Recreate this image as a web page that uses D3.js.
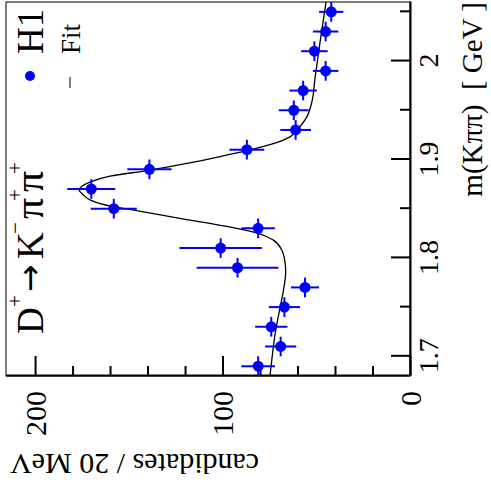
<!DOCTYPE html>
<html>
<head>
<meta charset="utf-8">
<script src="https://cdn.jsdelivr.net/npm/d3@7"></script>
<style>
  body { margin: 0; background: #fff; }
  svg { display: block; }
  text { font-family: 'Liberation Serif', 'Times New Roman', serif; fill: #000; }
</style>
</head>
<body>
<div id="chart"></div>
<script>
// bin centres of m(K pi pi), 20 MeV bins
const massBins = [1.69, 1.71, 1.73, 1.75, 1.77, 1.79, 1.81, 1.83, 1.85, 1.87,
  1.89, 1.91, 1.93, 1.95, 1.97, 1.99, 2.01, 2.03, 2.05];
const candidates = [81, 69, 74, 67, 56, 92, 101, 81, 158, 170,
  139, 87, 61, 62, 57, 45, 51, 45, 42];
const candErrors = [9, 8.3, 8.6, 8.3, 7.5, 21.8, 22, 8.9, 12.3, 12.8,
  11.8, 9.3, 8.2, 8, 7.3, 6.8, 7.1, 6.8, 6.5];
const binHalfWidth = 0.01;

// fit curve
const fitMass = [1.68, 1.695, 1.722, 1.746, 1.766, 1.786, 1.796, 1.808, 1.818, 1.825,
  1.830, 1.836, 1.842, 1.848, 1.852, 1.859, 1.864, 1.869, 1.877, 1.883,
  1.889, 1.896, 1.903, 1.909, 1.915, 1.923, 1.928, 1.943, 1.958, 1.982,
  2.019, 2.06];
const fitCandidates = [74.7, 73.8, 72, 69.7, 67.6, 66.3, 66.7, 68.4, 72.9, 80.9,
  92.4, 110.2, 128, 145.8, 158.2, 170.7, 174.2, 176.4, 170.7, 160,
  139.2, 119.1, 101.3, 87.1, 74.7, 64, 61.3, 55.1, 52.4, 50.7,
  48, 44.8];

const massTicks = [1.7, 1.8, 1.9, 2.0];
const massTickLabels = ['1.7', '1.8', '1.9', '2'];
const massMinorTicks = [1.75, 1.85, 1.95, 2.05];
const countTicks = [0, 100, 200];
const countTickLabels = ['0', '100', '200'];
const countMinorTicks = [20, 40, 60, 80, 120, 140, 160, 180];

const width = 491;
const height = 490;

// the plot is laid out upright and then turned a quarter turn anticlockwise
const plot = { left: 114, right: 488, top: 6, bottom: 410 };
const serif = "'Liberation Serif', 'Times New Roman', serif";

const svg = d3.select('#chart')
  .append('svg')
  .attr('width', width)
  .attr('height', height);

svg.append('rect')
  .attr('width', width)
  .attr('height', height)
  .attr('fill', '#fff');

const g = svg.append('g')
  .attr('transform', `translate(0,${height}) rotate(-90)`);

const x = d3.scaleLinear().domain([1.68, 2.06]).range([plot.left, plot.right]);
const y = d3.scaleLinear().domain([0, 215.5]).range([plot.bottom, plot.top]);

// frame
g.append('rect')
  .attr('x', plot.left)
  .attr('y', plot.top)
  .attr('width', plot.right - plot.left)
  .attr('height', plot.bottom - plot.top)
  .attr('fill', 'none')
  .attr('stroke', '#000')
  .attr('stroke-width', 1);

// mass axis
g.append('g')
  .attr('transform', `translate(0,${plot.bottom})`)
  .call(d3.axisBottom(x).tickValues(massMinorTicks).tickSize(-10).tickSizeOuter(0).tickFormat(''))
  .call(a => a.select('.domain').remove())
  .call(a => a.selectAll('line').attr('stroke-width', 2));

g.append('g')
  .attr('transform', `translate(0,${plot.bottom})`)
  .call(d3.axisBottom(x).tickValues(massTicks).tickSize(-19).tickSizeOuter(0)
    .tickFormat((d, i) => massTickLabels[i]))
  .call(a => a.select('.domain').attr('stroke-width', 2))
  .call(a => a.selectAll('line').attr('stroke-width', 2))
  .call(a => a.selectAll('text')
    .attr('y', 28)
    .attr('dy', null)
    .style('font-size', '28px')
    .style('font-family', serif));

// count axis
g.append('g')
  .attr('transform', `translate(${plot.left},0)`)
  .call(d3.axisLeft(y).tickValues(countMinorTicks).tickSize(-10).tickSizeOuter(0).tickFormat(''))
  .call(a => a.select('.domain').remove())
  .call(a => a.selectAll('line').attr('stroke-width', 2));

g.append('g')
  .attr('transform', `translate(${plot.left},0)`)
  .call(d3.axisLeft(y).tickValues(countTicks).tickSize(-20).tickSizeOuter(0).tickPadding(15)
    .tickFormat((d, i) => countTickLabels[i]))
  .call(a => a.select('.domain').attr('stroke-width', 2))
  .call(a => a.selectAll('line').attr('stroke-width', 2))
  .call(a => a.selectAll('text')
    .attr('dy', '0.34em')
    .style('font-size', '30px')
    .style('font-family', serif));

// axis titles
g.append('text')
  .attr('x', plot.right)
  .attr('y', 482)
  .attr('text-anchor', 'end')
  .style('font-size', '29px')
  .style('white-space', 'pre')
  .text('m(K\u03c0\u03c0)  [ GeV ]');

g.append('text')
  .attr('transform', 'translate(36,10) rotate(-90)')
  .attr('text-anchor', 'end')
  .style('font-size', '30px')
  .text('candidates / 20 MeV');

// fit
const fitLine = d3.line()
  .x((d, i) => x(fitMass[i]))
  .y(d => y(d))
  .curve(d3.curveMonotoneX);

g.append('path')
  .datum(fitCandidates)
  .attr('d', fitLine)
  .attr('fill', 'none')
  .attr('stroke', '#000')
  .attr('stroke-width', 1.3);

// data points with error bars
const pts = g.append('g')
  .selectAll('g')
  .data(candidates)
  .join('g');

pts.append('line')
  .attr('x1', (d, i) => x(massBins[i]))
  .attr('x2', (d, i) => x(massBins[i]))
  .attr('y1', (d, i) => y(d - candErrors[i]))
  .attr('y2', (d, i) => y(d + candErrors[i]))
  .attr('stroke', '#0000ff')
  .attr('stroke-width', 2);

pts.append('line')
  .attr('x1', (d, i) => x(massBins[i] - binHalfWidth))
  .attr('x2', (d, i) => x(massBins[i] + binHalfWidth))
  .attr('y1', d => y(d))
  .attr('y2', d => y(d))
  .attr('stroke', '#0000ff')
  .attr('stroke-width', 2);

pts.append('circle')
  .attr('cx', (d, i) => x(massBins[i]))
  .attr('cy', d => y(d))
  .attr('r', 5.5)
  .attr('fill', '#0000ff');

// decay label
const title = g.append('text')
  .attr('y', 43)
  .style('font-size', '37px');
title.append('tspan').attr('x', 156).text('D');
title.append('tspan').attr('x', 183).attr('y', 22).style('font-size', '21px').text('+');
title.append('tspan').attr('x', 198).attr('y', 41)
  .style('font-family', "'DejaVu Sans', sans-serif").style('font-size', '33px').text('\u2192');
title.append('tspan').attr('x', 231).attr('y', 43).text('K');
title.append('tspan').attr('x', 256).attr('y', 22).style('font-size', '21px').text('\u2212');
title.append('tspan').attr('x', 271).attr('y', 43).style('font-size', '42px').text('\u03c0');
title.append('tspan').attr('x', 289).attr('y', 22).style('font-size', '21px').text('+');
title.append('tspan').attr('x', 298).attr('y', 43).style('font-size', '42px').text('\u03c0');
title.append('tspan').attr('x', 316).attr('y', 22).style('font-size', '21px').text('+');

// legend
g.append('circle')
  .attr('cx', 414)
  .attr('cy', 30)
  .attr('r', 5)
  .attr('fill', '#0000ff');
g.append('text')
  .attr('x', 436)
  .attr('y', 43)
  .style('font-size', '37px')
  .text('H1');
g.append('line')
  .attr('x1', 402)
  .attr('x2', 413)
  .attr('y1', 70)
  .attr('y2', 70)
  .attr('stroke', '#000')
  .attr('stroke-width', 1);
g.append('text')
  .attr('x', 436)
  .attr('y', 80)
  .style('font-size', '27px')
  .text('Fit');
</script>
</body>
</html>
